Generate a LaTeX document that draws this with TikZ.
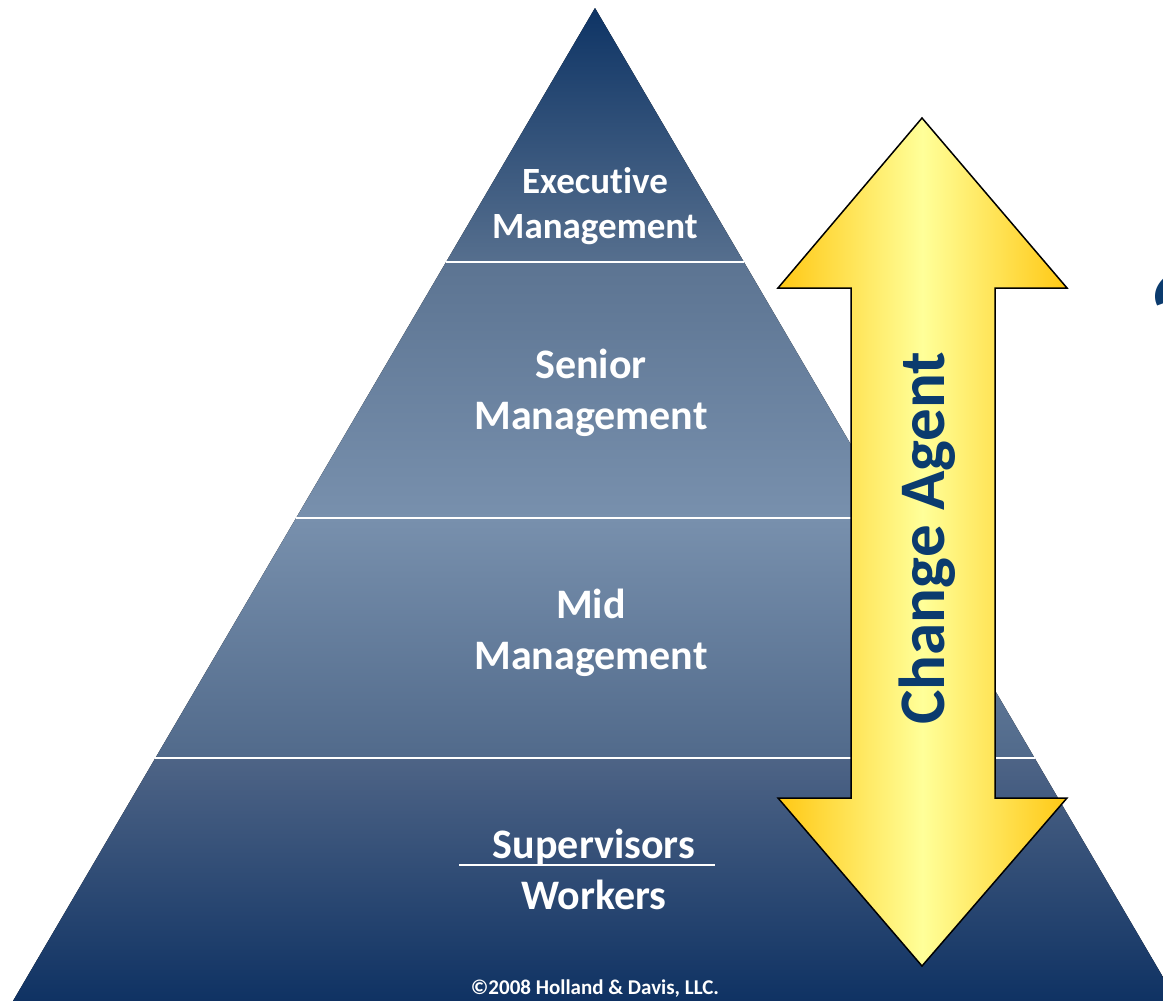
\documentclass[tikz,border=0pt]{standalone}
\usepackage{fontspec}
\setmainfont{Carlito}[Ligatures={NoCommon}]
\usetikzlibrary{positioning,calc}
\definecolor{apexblue}{RGB}{14, 52, 101}
\definecolor{upperblue}{RGB}{86, 111, 142}
\definecolor{seniortop}{RGB}{92, 116, 146}
\definecolor{paleblue}{RGB}{120, 144, 173}
\definecolor{midbottom}{RGB}{81, 106, 139}
\definecolor{basetop}{RGB}{78, 100, 134}
\definecolor{basebottom}{RGB}{15, 50, 99}
\definecolor{arrowgold}{RGB}{255, 200, 20}
\definecolor{arrowpale}{RGB}{255, 255, 153}
\definecolor{agentblue}{RGB}{11, 59, 110}

\begin{document}
\begin{tikzpicture}[
    x=1pt, y=-1pt,
    tier/.style={align=center, text=white, font=\fontsize{42}{51}\selectfont\bfseries},
    divider/.style={white, line width=2pt},
    agent/.style={rotate=90, anchor=base, text=agentblue, font=\fontsize{65}{70}\selectfont\bfseries}
]
\useasboundingbox (0,0) rectangle (1163,1001);

% Pyramid tiers
\fill[top color=apexblue, bottom color=upperblue] (595,8) -- (743.9,262) -- (446.1,262) -- cycle;
\fill[top color=seniortop, bottom color=paleblue] (446.1,262) -- (743.9,262) -- (893.9,518) -- (296.1,518) -- cycle;
\fill[top color=paleblue, bottom color=midbottom] (296.1,518) -- (893.9,518) -- (1034.6,758) -- (155.4,758) -- cycle;
\fill[top color=basetop, bottom color=basebottom] (155.4,758) -- (1034.6,758) -- (1177,1001) -- (13,1001) -- cycle;

% Dividers
\draw[divider] (446.1,262) -- (743.9,262);
\draw[divider] (296.1,518) -- (893.9,518);
\draw[divider] (155.4,758) -- (1034.6,758);

% Tier labels
\node[tier, font=\fontsize{37}{45}\selectfont\bfseries] (exec) at (595,206) {Executive\\Management};
\node[tier] (senior) at (591,393) {Senior\\Management};
\node[tier] (mid) at (591,633) {Mid\\Management};
\node[tier] (workers) at (594,869) {Supervisors\\Workers};
\draw[white, line width=2pt] (459,865) -- (715,865);

\node[text=white, font=\fontsize{21}{24}\selectfont\bfseries] (copyright) at (595,989) {©2008 Holland \& Davis, LLC.};

% Change agent arrow
\draw[line width=1.5pt, line join=miter, left color=arrowgold, right color=arrowgold, middle color=arrowpale]
    (922,118) -- (1067,288) -- (995,288) -- (995,798) -- (1067,798) -- (922,966)
    -- (778,798) -- (851,798) -- (851,288) -- (778,288) -- cycle;
\node[agent] (agent) at (944,538) {Change Agent};

% Cut-off quote
\node[text=agentblue, font=\fontsize{110}{110}\selectfont\bfseries\itshape, anchor=north west] (quote) at (1140,272) {“};

\end{tikzpicture}
\end{document}
